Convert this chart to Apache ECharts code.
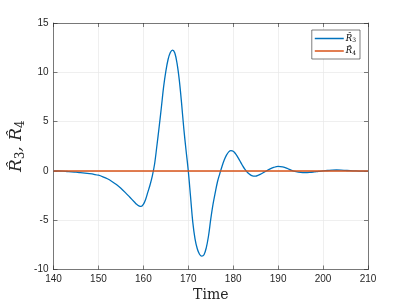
<!DOCTYPE html>
<html>
<head>
<meta charset="utf-8">
<script src="https://cdn.jsdelivr.net/npm/echarts@6/dist/echarts.min.js"></script>
<style>html,body{margin:0;padding:0;background:#fff;}#c{width:407px;height:305px;}</style>
</head>
<body>
<div id="c"></div>
<script>
var times = [140,141,142,143,144,145,146,147,148,149,150,151,152,153,154,155,156,157,158,158.5,159,159.5,160,160.5,161,161.5,162,162.5,163,163.5,164,164.5,165,165.5,166,166.5,167,167.5,168,168.5,169,169.5,170,170.5,171,171.5,172,172.5,173,173.5,174,174.5,175,175.5,176,176.5,177,177.5,178,178.5,179,179.5,180,180.5,181,181.5,182,182.5,183,183.5,184,184.5,185,185.5,186,187,188,189,190,191,192,193,194,195,196,197,198,199,200,201,202,203,204,205,206,207,208,209,210];
var r3Values = [0,-0.01,-0.03,-0.06,-0.09,-0.13,-0.17,-0.22,-0.28,-0.35,-0.44,-0.6,-0.8,-1.07,-1.38,-1.76,-2.2,-2.68,-3.15,-3.38,-3.54,-3.6,-3.4,-2.9,-2.15,-1.4,-0.5,0.7,2.5,4.4,6.4,8.5,10.1,11.3,12.0,12.25,11.95,10.9,9.2,6.9,4.3,2.1,0,-2.6,-5.2,-6.9,-7.9,-8.45,-8.65,-8.5,-7.8,-6.6,-4.9,-3.4,-2.2,-1.1,-0.3,0.45,1.1,1.6,1.93,2.05,2.0,1.75,1.4,1.0,0.6,0.22,-0.08,-0.3,-0.45,-0.52,-0.52,-0.45,-0.35,-0.1,0.15,0.35,0.46,0.4,0.25,0.05,-0.08,-0.15,-0.17,-0.15,-0.1,-0.04,0,0.04,0.08,0.09,0.08,0.05,0.02,0,-0.02,-0.03,-0.02];
var r4Times = [140,210];
var r4Values = [0,0];
var xTicks = {min:140,max:210,interval:10};
var yTicks = {min:-10,max:15,interval:5};

function pairs(xs, ys){ return xs.map(function(x,i){return [x, ys[i]];}); }

var axisCol = '#262626';
var labelFont = {color:axisCol, fontFamily:'Liberation Sans', fontSize:10};
var chart = echarts.init(document.getElementById('c'), null, {renderer:'canvas'});
chart.setOption({
  animation:false,
  backgroundColor:'#fff',
  grid:{left:53.5,right:39,top:23,bottom:35.5,show:false,containLabel:false,outerBoundsMode:'none'},
  legend:{
    orient:'vertical', right:47, top:30,
    data:['R3','R4'],
    icon:'rect', itemWidth:29, itemHeight:1.5, itemGap:3,
    padding:[4,4,3,3],
    borderColor:axisCol, borderWidth:0.6, backgroundColor:'#fff',
    formatter:function(n){ return n==='R3' ? '{a|R̂}{b|3}' : '{a|R̂}{b|4}'; },
    textStyle:{
      padding:[0,0,0,-3],
      rich:{
        a:{fontFamily:'DejaVu Serif', fontStyle:'italic', fontSize:8.5, color:'#000'},
        b:{fontFamily:'DejaVu Serif', fontSize:6, color:'#000', verticalAlign:'bottom', padding:[4,0,0,0]}
      }
    }
  },
  xAxis:[{
    type:'value', min:xTicks.min, max:xTicks.max, interval:xTicks.interval,
    name:'Time', nameLocation:'middle', nameGap:19, nameMoveOverlap:false,
    nameTextStyle:{fontFamily:'DejaVu Serif', fontSize:14, color:axisCol},
    axisLine:{show:true, onZero:false, lineStyle:{color:axisCol,width:0.6}},
    axisTick:{show:true, inside:true, length:4, lineStyle:{color:axisCol,width:0.6}},
    axisLabel:Object.assign({margin:5}, labelFont),
    splitLine:{show:true, lineStyle:{color:'#e8e8e8', width:0.7}}
  },{
    type:'value', position:'top', min:xTicks.min, max:xTicks.max, interval:xTicks.interval,
    axisLine:{show:true, onZero:false, lineStyle:{color:axisCol,width:0.6}},
    axisTick:{show:true, inside:true, length:4, lineStyle:{color:axisCol,width:0.6}},
    axisLabel:{show:false}, splitLine:{show:false}
  }],
  yAxis:[{
    type:'value', min:yTicks.min, max:yTicks.max, interval:yTicks.interval,
    name:'{a|R̂}{b|3}{a|, R̂}{b|4}', nameLocation:'middle', nameGap:27, nameRotate:90, nameMoveOverlap:false,
    nameTextStyle:{
      color:axisCol,
      rich:{
        a:{fontFamily:'DejaVu Serif', fontStyle:'italic', fontSize:17, color:axisCol},
        b:{fontFamily:'DejaVu Serif', fontSize:12, color:axisCol, verticalAlign:'bottom', padding:[7,0,0,0]}
      }
    },
    axisLine:{show:true, onZero:false, lineStyle:{color:axisCol,width:0.6}},
    axisTick:{show:true, inside:true, length:4, lineStyle:{color:axisCol,width:0.6}},
    axisLabel:Object.assign({margin:5}, labelFont),
    splitLine:{show:true, lineStyle:{color:'#e8e8e8', width:0.7}}
  },{
    type:'value', position:'right', min:yTicks.min, max:yTicks.max, interval:yTicks.interval,
    axisLine:{show:true, onZero:false, lineStyle:{color:axisCol,width:0.6}},
    axisTick:{show:true, inside:true, length:4, lineStyle:{color:axisCol,width:0.6}},
    axisLabel:{show:false}, splitLine:{show:false}
  }],
  series:[{
    name:'R3', type:'line', data:pairs(times, r3Values), showSymbol:false, smooth:0.35,
    lineStyle:{color:'#0072BD', width:1.3}, itemStyle:{color:'#0072BD'}, z:2
  },{
    name:'R4', type:'line', data:pairs(r4Times, r4Values), showSymbol:false,
    lineStyle:{color:'#D95319', width:1.5}, itemStyle:{color:'#D95319'}, z:3
  }]
});
</script>
</body>
</html>
